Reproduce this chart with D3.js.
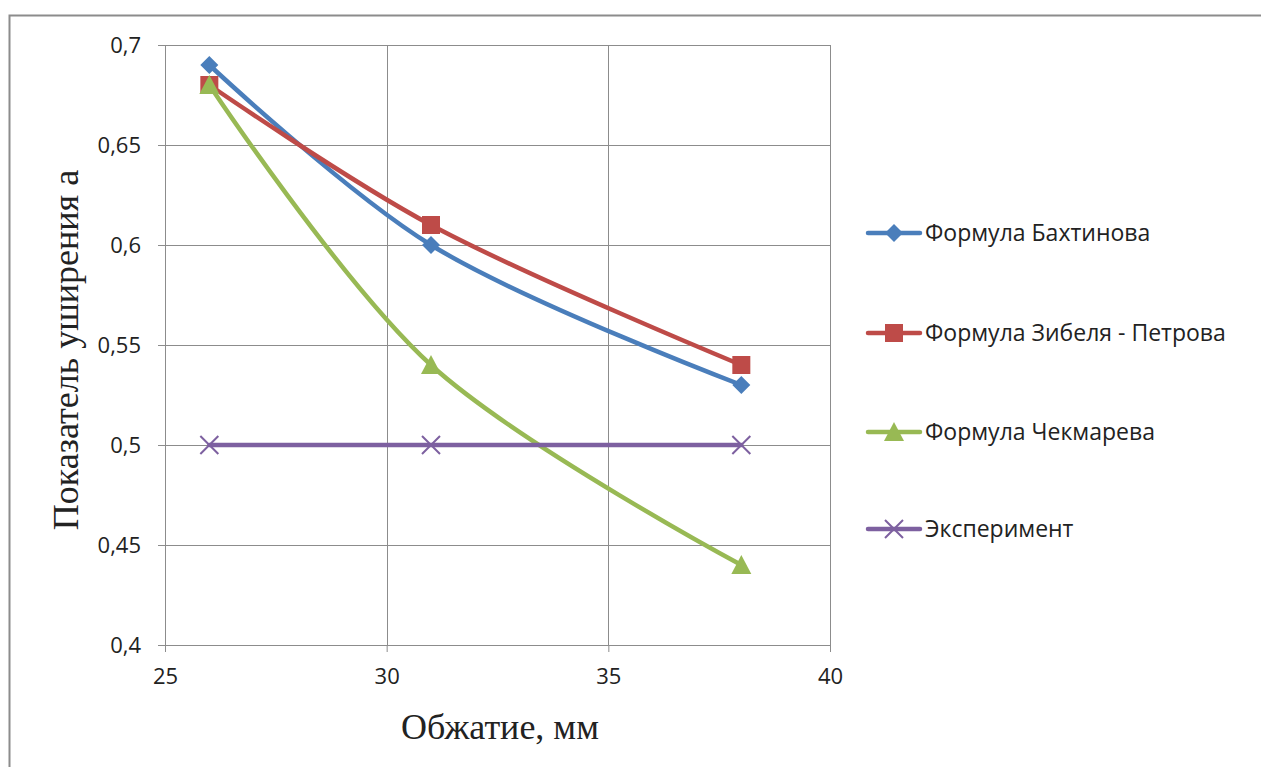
<!DOCTYPE html>
<html>
<head>
<meta charset="utf-8">
<script src="https://cdn.jsdelivr.net/npm/d3@7"></script>
<style>
  body { margin: 0; background: #fff; }
  .tick text { font-family: "Open Sans", "Noto Sans", sans-serif; font-size: 22px; fill: #222; }
</style>
</head>
<body>
<svg class="chart"></svg>
<script>
// Data
var obzhatie = [26, 31, 38];
var bakhtinov = [0.69, 0.60, 0.53];
var zibel = [0.68, 0.61, 0.54];
var chekmarev = [0.68, 0.54, 0.44];
var experiment = [0.5, 0.5, 0.5];
var seriesNames = ["Формула Бахтинова", "Формула Зибеля - Петрова", "Формула Чекмарева", "Эксперимент"];
var xTicks = [25, 30, 35, 40];
var yTicks = [0.4, 0.45, 0.5, 0.55, 0.6, 0.65, 0.7];

var w = 1261,
    h = 767;

var svg = d3.select(".chart")
    .attr("width", w)
    .attr("height", h);

// outer frame (only top and left visible)
svg.append("rect")
    .attr("x", 9.5).attr("y", 15.5)
    .attr("width", w + 20).attr("height", h + 20)
    .attr("fill", "none")
    .attr("stroke", "#8c8c8c")
    .attr("stroke-width", 2);

var margin = { top: 45, left: 165 },
    width = 830 - 165,
    height = 645 - 45,
    g = svg.append("g").attr("transform", "translate(" + margin.left + "," + margin.top + ")");

var xScale = d3.scaleLinear().domain([25, 40]).range([0, width]);
var yScale = d3.scaleLinear().domain([0.4, 0.7]).range([height, 0]);

var fmt = function(d) { return d3.format("")(+d.toFixed(2)).replace(".", ","); };

// grid
g.selectAll(".hgrid").data(yTicks).enter().append("line")
    .attr("x1", 0).attr("x2", width)
    .attr("y1", function(d) { return Math.round(yScale(d)) + 0.5; })
    .attr("y2", function(d) { return Math.round(yScale(d)) + 0.5; })
    .attr("stroke", "#8c8c8c");
g.selectAll(".vgrid").data(xTicks).enter().append("line")
    .attr("y1", 0).attr("y2", height)
    .attr("x1", function(d) { return Math.round(xScale(d)) + 0.5; })
    .attr("x2", function(d) { return Math.round(xScale(d)) + 0.5; })
    .attr("stroke", "#8c8c8c");

var xAxis = d3.axisBottom(xScale).tickValues(xTicks).tickSize(7).tickPadding(16).tickFormat(fmt);
var yAxis = d3.axisLeft(yScale).tickValues(yTicks).tickSize(7).tickPadding(17).tickFormat(fmt);

g.append("g").attr("class", "x axis")
    .attr("transform", "translate(0," + height + ")")
    .call(xAxis);
g.append("g").attr("class", "y axis")
    .call(yAxis);
g.selectAll(".axis path, .axis line").attr("stroke", "#8c8c8c");
g.selectAll(".axis .domain").remove();
g.append("line").attr("x1", 0.5).attr("x2", 0.5).attr("y1", 0).attr("y2", height + 7).attr("stroke", "#8c8c8c");
g.append("line").attr("x1", -7).attr("x2", width).attr("y1", height + 0.5).attr("y2", height + 0.5).attr("stroke", "#8c8c8c");

// axis titles
svg.append("text")
    .attr("x", 500).attr("y", 739)
    .attr("text-anchor", "middle")
    .attr("font-family", "'Liberation Serif', 'Times New Roman', serif")
    .attr("font-size", 36)
    .attr("fill", "#222")
    .text("Обжатие, мм");
svg.append("text")
    .attr("transform", "translate(78,350) rotate(-90)")
    .attr("text-anchor", "middle")
    .attr("font-family", "'Liberation Serif', 'Times New Roman', serif")
    .attr("font-size", 36)
    .attr("fill", "#222")
    .text("Показатель уширения а");

var series = [
    { name: seriesNames[0], values: bakhtinov, color: "#4a7ebb", marker: "diamond" },
    { name: seriesNames[1], values: zibel, color: "#be4b48", marker: "square" },
    { name: seriesNames[2], values: chekmarev, color: "#98b954", marker: "triangle" },
    { name: seriesNames[3], values: experiment, color: "#7d60a0", marker: "x" }
];

var line = d3.line()
    .x(function(d) { return xScale(d.x); })
    .y(function(d) { return yScale(d.y); })
    .curve(d3.curveCatmullRom.alpha(0.5));

var drawMarker = function(sel, type, color, x, y) {
    if (type === "diamond") {
        sel.append("path")
            .attr("d", "M0,-9L9,0L0,9L-9,0Z")
            .attr("transform", "translate(" + x + "," + y + ")")
            .attr("fill", color);
    } else if (type === "square") {
        sel.append("rect")
            .attr("x", x - 9).attr("y", y - 9)
            .attr("width", 18).attr("height", 18)
            .attr("fill", color);
    } else if (type === "triangle") {
        sel.append("path")
            .attr("d", "M0,-10L10,9L-10,9Z")
            .attr("transform", "translate(" + x + "," + y + ")")
            .attr("fill", color);
    } else {
        sel.append("path")
            .attr("d", "M-9,-9L9,9M-9,9L9,-9")
            .attr("transform", "translate(" + x + "," + y + ")")
            .attr("stroke", color)
            .attr("stroke-width", 2)
            .attr("fill", "none");
    }
};

series.forEach(function(s) {
    var pts = obzhatie.map(function(x, i) { return { x: x, y: s.values[i] }; });
    g.append("path")
        .datum(pts)
        .attr("fill", "none")
        .attr("stroke", s.color)
        .attr("stroke-width", 4.5)
        .attr("stroke-linejoin", "round")
        .attr("stroke-linecap", "round")
        .attr("d", line);
});
series.forEach(function(s) {
    obzhatie.forEach(function(x, i) {
        drawMarker(g, s.marker, s.color, xScale(x), yScale(s.values[i]));
    });
});

// legend
var legendY = [233, 333, 432, 529];
var legend = svg.append("g");
series.forEach(function(s, i) {
    var y = legendY[i];
    legend.append("line")
        .attr("x1", 868).attr("x2", 920)
        .attr("y1", y).attr("y2", y)
        .attr("stroke", s.color)
        .attr("stroke-width", 4.5)
        .attr("stroke-linecap", "round");
    drawMarker(legend, s.marker, s.color, 894, y);
    legend.append("text")
        .attr("x", 925).attr("y", y + 8)
        .attr("font-family", "'Open Sans', 'Noto Sans', sans-serif")
        .attr("font-size", 23)
        .attr("fill", "#222")
        .text(s.name);
});
</script>
</body>
</html>
